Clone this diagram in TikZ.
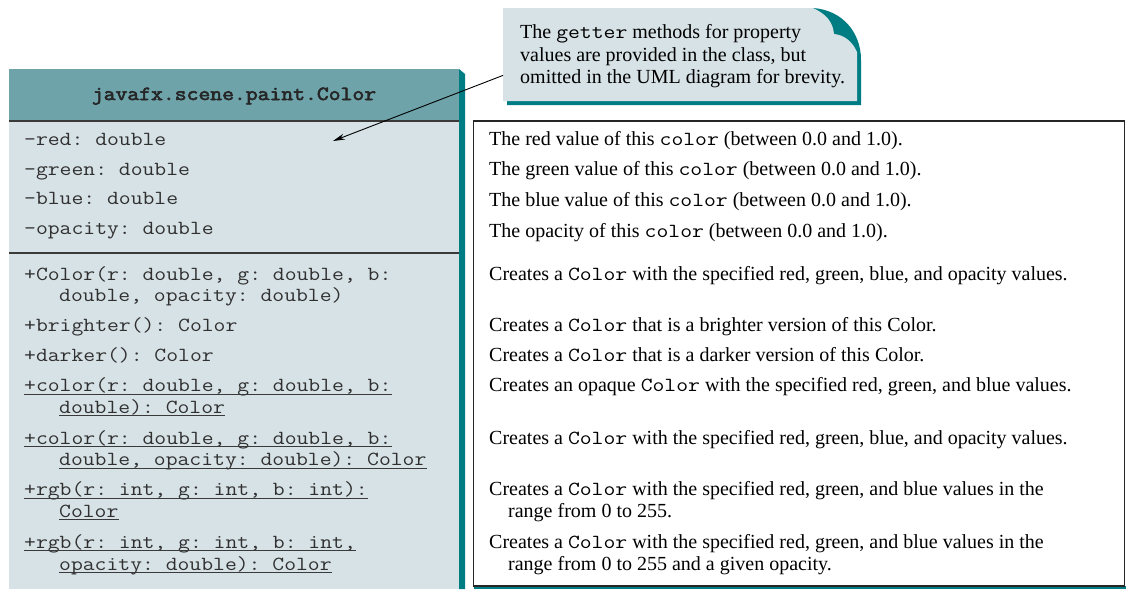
\documentclass[tikz,border=0pt]{standalone}
\usepackage{fontspec}
\setmainfont{Liberation Serif}
\setmonofont[FakeStretch=1.15]{Latin Modern Mono}
\newfontfamily\hdrfont[FakeStretch=1.15,FakeBold=3]{Latin Modern Mono}
\usetikzlibrary{arrows.meta}

\definecolor{hdrfill}{HTML}{6EA3AA}
\definecolor{bodyfill}{HTML}{D7E2E6}
\definecolor{edgeteal}{HTML}{007D83}
\definecolor{rulegray}{HTML}{3A3A3A}
\definecolor{codegray}{HTML}{303030}

% inline code inside serif text
\newcommand\cd[1]{{\ttfamily\fontsize{20}{22}\selectfont #1}}
% underline for static members, drawn under a named node
\newcommand\staticline[1]{\draw[rulegray,line width=0.8pt] ([yshift=-2.5pt]#1.base west) -- ([yshift=-2.5pt]#1.base east);}

\tikzset{
  member/.style={anchor=base west, inner sep=0pt, text=codegray,
    font=\ttfamily\fontsize{20}{22}\selectfont},
  desc/.style={anchor=base west, inner sep=0pt, text=black,
    font=\fontsize{20}{22}\selectfont},
  divider/.style={rulegray, line width=2pt},
  pointer/.style={-{Stealth[length=12pt,width=6pt]}, line width=0.9pt, black}
}

\begin{document}
\begin{tikzpicture}[x=1pt,y=-1pt]
\useasboundingbox (0,0) rectangle (1126,589);

% ---- class box ----
\fill[edgeteal] (459,69) -- (465,74) -- (465,589) -- (459,589) -- cycle;
\fill[bodyfill] (9,121) rectangle (459,589);
\fill[hdrfill] (9,69) rectangle (459,121);
\draw[divider] (9,121) -- (459,121);
\draw[divider] (9,252.5) -- (459,252.5);

\node[anchor=base, inner sep=0pt, text=black!85, font=\hdrfont\fontsize{20}{22}\selectfont]
  (hdr) at (234,100) {javafx.scene.paint.Color};

% attributes
\node[member] (a1) at (24,145)   {-red: double};
\node[member] (a2) at (24,175)   {-green: double};
\node[member] (a3) at (24,204.5) {-blue: double};
\node[member] (a4) at (24,234.5) {-opacity: double};

% operations
\node[member] (m1a) at (24,280)   {+Color(r: double, g: double, b:};
\node[member] (m1b) at (59,301.5) {double, opacity: double)};
\node[member] (m2)  at (24,331.5) {+brighter(): Color};
\node[member] (m3)  at (24,361.5) {+darker(): Color};
\node[member] (m4a) at (24,391.5) {+color(r: double, g: double, b:};
\node[member] (m4b) at (59,413)   {double): Color};
\node[member] (m5a) at (24,444)   {+color(r: double, g: double, b:};
\node[member] (m5b) at (59,465.5) {double, opacity: double): Color};
\node[member] (m6a) at (24,495.5) {+rgb(r: int, g: int, b: int):};
\node[member] (m6b) at (59,517)   {Color};
\node[member] (m7a) at (24,548)   {+rgb(r: int, g: int, b: int,};
\node[member] (m7b) at (59,570)   {opacity: double): Color};
\staticline{m4a}\staticline{m4b}
\staticline{m5a}\staticline{m5b}
\staticline{m6a}\staticline{m6b}
\staticline{m7a}\staticline{m7b}

% ---- description box ----
\fill[edgeteal] (474,586) rectangle (1126,589);
\draw[black!85, line width=1.3pt, fill=white] (473.5,121) rectangle (1124.5,586);

\node[desc] (d1) at (489,145)   {The red value of this \cd{color} (between 0.0 and 1.0).};
\node[desc] (d2) at (489,175.5) {The green value of this \cd{color} (between 0.0 and 1.0).};
\node[desc] (d3) at (489,206)   {The blue value of this \cd{color} (between 0.0 and 1.0).};
\node[desc] (d4) at (489,237.5) {The opacity of this \cd{color} (between 0.0 and 1.0).};
\node[desc] (e1) at (489,280)   {Creates a \cd{Color} with the specified red, green, blue, and opacity values.};
\node[desc] (e2) at (489,331.5) {Creates a \cd{Color} that is a brighter version of this Color.};
\node[desc] (e3) at (489,361.5) {Creates a \cd{Color} that is a darker version of this Color.};
\node[desc] (e4) at (489,391.5) {Creates an opaque \cd{Color} with the specified red, green, and blue values.};
\node[desc] (e5) at (489,444)   {Creates a \cd{Color} with the specified red, green, blue, and opacity values.};
\node[desc] (e6a) at (489,495.5) {Creates a \cd{Color} with the specified red, green, and blue values in the};
\node[desc] (e6b) at (508,517)   {range from 0 to 255.};
\node[desc] (e7a) at (489,548)   {Creates a \cd{Color} with the specified red, green, and blue values in the};
\node[desc] (e7b) at (508,570)   {range from 0 to 255 and a given opacity.};

% ---- callout with curled corner ----
\fill[edgeteal] (813,8) .. controls (842,10) and (861,32) .. (861,60)
  -- (861,105) -- (507,105) -- (507,20) -- cycle;
\fill[bodyfill] (503,8) -- (813,8) .. controls (826,14) and (833,22) .. (834,34)
  .. controls (844,35) and (852,41) .. (857,52) -- (857,101) -- (503,101) -- cycle;
\node[anchor=north west, align=left, inner sep=0pt, font=\fontsize{20}{22.5}\selectfont]
  (note) at (520,24.5)
  {The \cd{getter} methods for property\\
   values are provided in the class, but\\
   omitted in the UML diagram for brevity.};

\coordinate (target) at (333,141);
\draw[pointer] ([xshift=-17pt,yshift=-19pt]note.west) -- (target);
\end{tikzpicture}
\end{document}
